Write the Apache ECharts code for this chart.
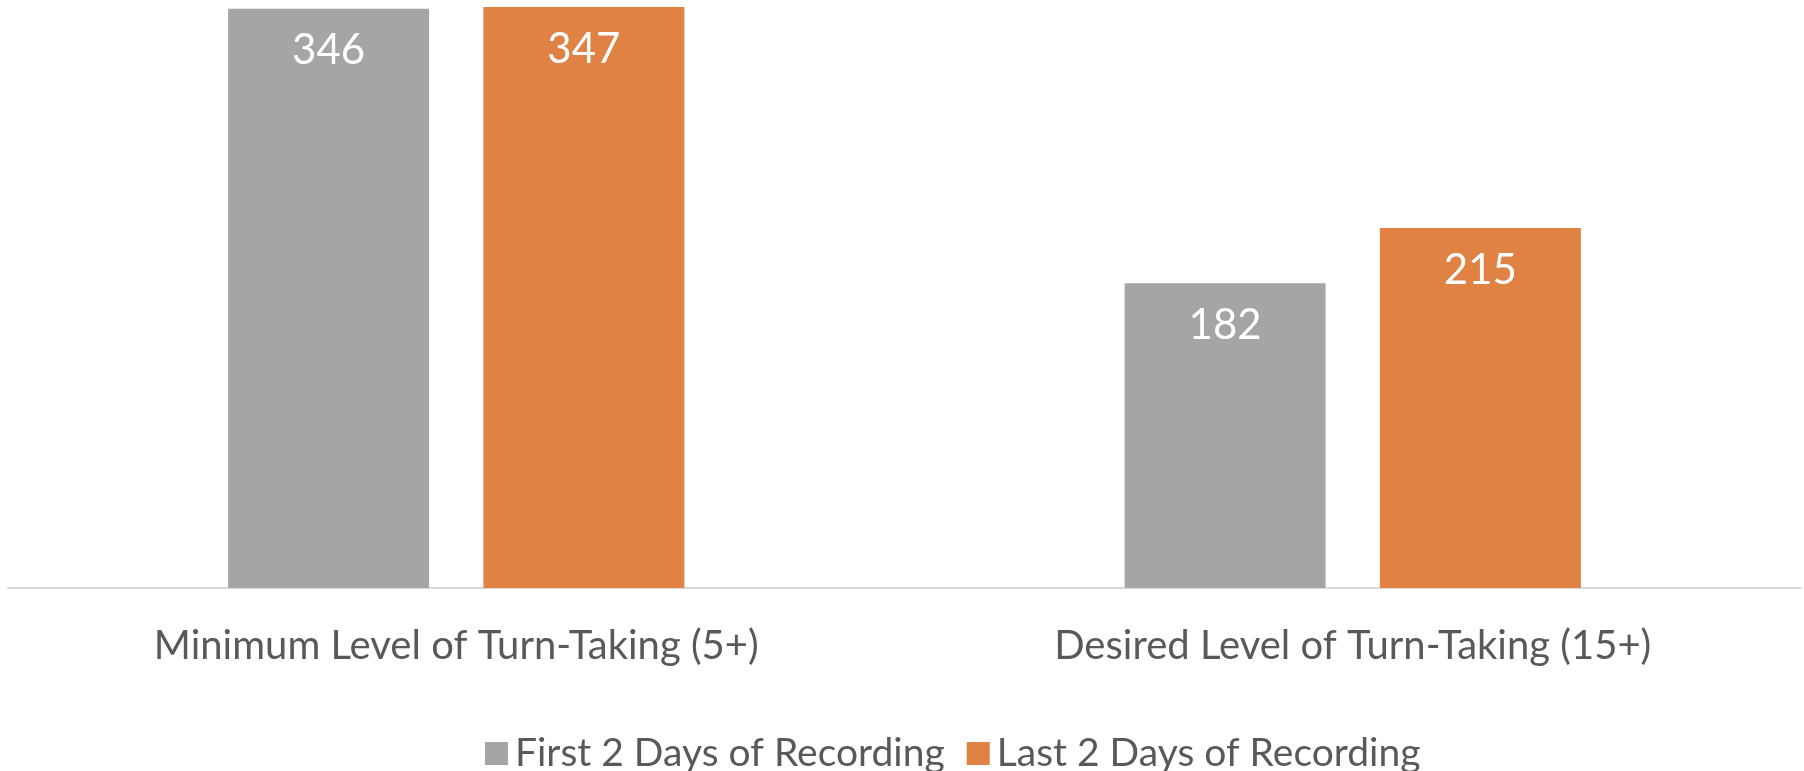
<!DOCTYPE html>
<html>
<head>
<meta charset="utf-8">
<script src="https://cdn.jsdelivr.net/npm/echarts@6/dist/echarts.min.js"></script>
<style>
  html, body { margin: 0; padding: 0; background: #fff; }
  #main { width: 1804px; height: 771px; }
</style>
</head>
<body>
<div id="main"></div>
<script>
var categories = ['Minimum Level of Turn-Taking (5+)', 'Desired Level of Turn-Taking (15+)'];
var seriesNames = ['First 2 Days of Recording', 'Last 2 Days of Recording'];
var firstDays = [346, 182];
var lastDays = [347, 215];

var FONT = 'Lato';
var chart = echarts.init(document.getElementById('main'));

var option = {
    animation: false,
    textStyle: { fontFamily: FONT },
    color: ['#a5a5a5', '#df8244'],
    grid: { left: 8, right: 3, top: 2, bottom: 183 },
    legend: {
        data: seriesNames,
        left: 480,
        top: 729,
        itemWidth: 23,
        itemHeight: 23,
        itemGap: 22,
        icon: 'rect',
        textStyle: { fontFamily: FONT, fontSize: 39, color: '#595959', padding: [0, 0, 0, 2] }
    },
    xAxis: {
        type: 'category',
        data: categories,
        axisLine: { lineStyle: { color: '#d9d9d9', width: 2 } },
        axisTick: { show: false },
        axisLabel: { fontFamily: FONT, fontSize: 40, color: '#595959', margin: 38 }
    },
    yAxis: {
        type: 'value',
        min: 0,
        max: 350,
        show: false,
        splitLine: { show: false }
    },
    series: [
        {
            name: seriesNames[0],
            type: 'bar',
            data: firstDays,
            barWidth: 201,
            barGap: '27%',
            label: { show: true, position: 'insideTop', distance: 21, fontFamily: FONT, fontSize: 42, color: '#fff' }
        },
        {
            name: seriesNames[1],
            type: 'bar',
            data: lastDays,
            barWidth: 201,
            barGap: '27%',
            label: { show: true, position: 'insideTop', distance: 21, fontFamily: FONT, fontSize: 42, color: '#fff' }
        }
    ]
};

chart.setOption(option);
</script>
</body>
</html>
